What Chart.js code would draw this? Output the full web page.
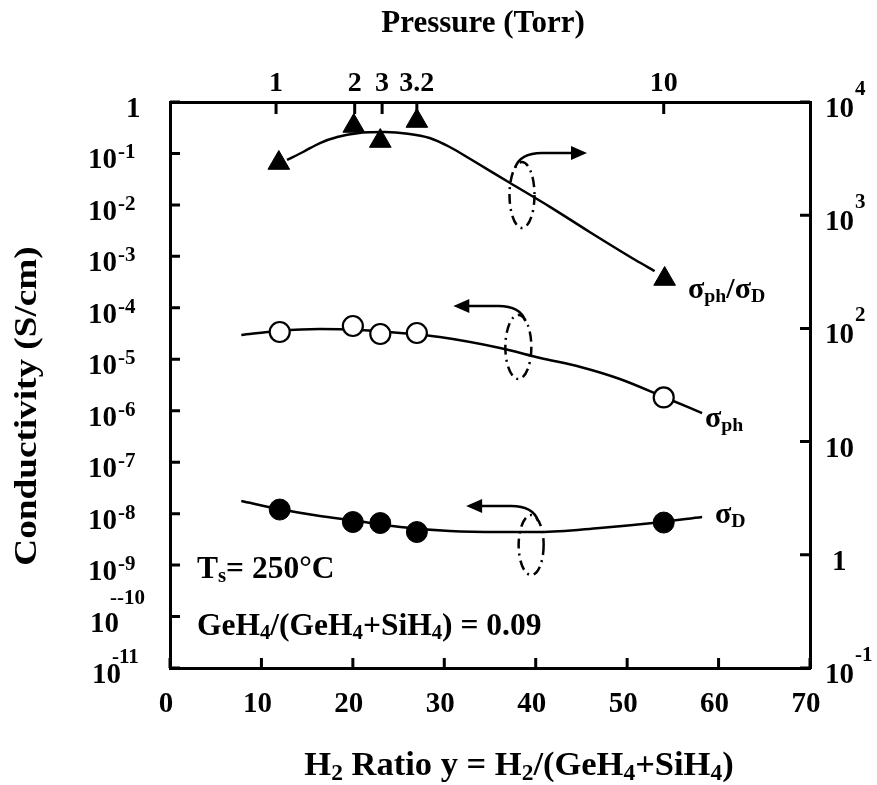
<!DOCTYPE html>
<html>
<head>
<meta charset="utf-8">
<script src="https://cdn.jsdelivr.net/npm/chart.js@4.4.0/dist/chart.umd.min.js"></script>
<style>
  html, body { margin: 0; padding: 0; background: #fff; }
  canvas { display: block; }
</style>
</head>
<body>
<canvas id="chart" width="877" height="785"></canvas>
<script>
// measured points (H2 ratio on x)
const h2Ratio = [12, 20, 23, 27, 54];
const sigmaD = [1.20e-8, 6.87e-9, 6.57e-9, 4.39e-9, 6.71e-9];
const sigmaPh = [3.39e-5, 4.43e-5, 3.10e-5, 3.24e-5, 1.81e-6];
const ratioX = [11.9, 20.1, 23.0, 27.0, 54.1];
const photoDarkRatio = [2890, 6140, 4520, 6790, 273];

// hand drawn trend curves
const fitDX = [7.8, 11.9, 16.4, 19.7, 25.2, 30.6, 36.1, 40.5, 47.0, 52.8, 58.2];
const fitD = [1.76e-8, 1.23e-8, 8.97e-9, 7.51e-9, 5.49e-9, 4.59e-9, 4.39e-9, 4.39e-9, 5.25e-9, 6.56e-9, 8.59e-9];
const fitPhX = [7.8, 11.8, 16.4, 20.8, 25.2, 29.5, 36.1, 40.5, 44.9, 49.2, 54.0, 58.2];
const fitPh = [2.96e-5, 3.54e-5, 3.87e-5, 3.70e-5, 3.24e-5, 2.71e-5, 1.66e-5, 1.06e-5, 7.07e-6, 4.13e-6, 1.85e-6, 9.02e-7];
const fitRatioX = [12.8, 14.55, 16.4, 18.3, 20.5, 23.5, 26.0, 28.4, 30.6, 32.8, 37.2, 41.6, 45.9, 50.9, 53.0];
const fitRatio = [3076, 3617, 4341, 4909, 5300, 5420, 5250, 4810, 4004, 3150, 1925, 1180, 711, 402, 321];

// axes
const xTickStep = 10;
const pressurePos = [11.6, 20.2, 23.2, 27.0, 54.0];
const pressureLabels = ['1', '2', '3', '3.2', '10'];
const leftExp = [0, -1, -2, -3, -4, -5, -6, -7, -8, -9, -10, -11];
const leftLabels = [['1', ''], ['10', '-1'], ['10', '-2'], ['10', '-3'], ['10', '-4'], ['10', '-5'],
    ['10', '-6'], ['10', '-7'], ['10', '-8'], ['10', '-9'], ['10', '--10'], ['10', '-11']];
const rightExp = [-1, 0, 1, 2, 3, 4];
const rightLabels = [['10', '-1'], ['1', ''], ['10', ''], ['10', '2'], ['10', '3'], ['10', '4']];

const FONT = '"Liberation Serif", "Times New Roman", serif';
const font = size => 'bold ' + size + 'px ' + FONT;

const pts = (xs, ys) => xs.map((x, i) => ({ x: x, y: ys[i] }));

// draws text made of [text, isSub] pieces
function drawRich(ctx, x, y, parts, size, align, subScale, subDrop) {
    const ss = size * (subScale || 0.68);
    const drop = subDrop !== undefined ? subDrop : size * 0.15;
    let w = 0;
    parts.forEach(p => {
        ctx.font = font(p[1] ? ss : size);
        w += ctx.measureText(p[0]).width;
    });
    let cx = align === 'center' ? x - w / 2 : x;
    ctx.textAlign = 'left';
    ctx.textBaseline = 'alphabetic';
    parts.forEach(p => {
        ctx.font = font(p[1] ? ss : size);
        ctx.fillText(p[0], cx, y + (p[1] ? drop : 0));
        cx += ctx.measureText(p[0]).width;
    });
}

const loops = [
    { x: 38.5, y: 1.56e-2, rx: 12.5, ry: 33, dir: 1 },
    { x: 38.1, y: 1.73e-5, rx: 13, ry: 32, dir: -1 },
    { x: 39.5, y: 2.45e-9, rx: 12.5, ry: 30, dir: -1 }
];

const sig = '\u03C3';
const notes = [
    { x: 56.66, y: 1.55e-4, size: 30, parts: [[sig, 0], ['ph', 1], ['/', 0], [sig, 0], ['D', 1]] },
    { x: 58.51, y: 4.82e-7, size: 30, parts: [[sig, 0], ['ph', 1]] },
    { x: 59.61, y: 6.56e-9, size: 30, parts: [[sig, 0], ['D', 1]] },
    { x: 2.95, y: 5.6e-10, size: 31.5, parts: [['T', 0], ['s', 1], ['= 250\u00B0C', 0]] },
    { x: 2.95, y: 4.37e-11, size: 31.5, parts: [['GeH', 0], ['4', 1], ['/(GeH', 0], ['4', 1], ['+SiH', 0], ['4', 1], [') = 0.09', 0]] }
];

const decorations = {
    id: 'decorations',
    afterDatasetsDraw(chart) {
        const ctx = chart.ctx;
        const xs = chart.scales.x, ys = chart.scales.y;
        ctx.save();
        ctx.strokeStyle = '#000';
        ctx.fillStyle = '#000';
        loops.forEach(l => {
            const cx = xs.getPixelForValue(l.x), cy = ys.getPixelForValue(l.y);
            ctx.lineWidth = 2.5;
            ctx.setLineDash([10, 5, 2, 5]);
            ctx.beginPath();
            ctx.ellipse(cx, cy, l.rx, l.ry, 0, 0, Math.PI * 2);
            ctx.stroke();
            ctx.setLineDash([]);
            const d = l.dir;
            const sx = cx - d * 7, sy = cy - l.ry + 6;
            const ty = cy - l.ry - 9;
            ctx.beginPath();
            ctx.moveTo(sx, sy);
            ctx.quadraticCurveTo(cx - d * 2, ty, cx + d * 20, ty);
            ctx.lineTo(cx + d * 50, ty);
            ctx.stroke();
            ctx.beginPath();
            ctx.moveTo(cx + d * 65, ty);
            ctx.lineTo(cx + d * 49, ty - 7);
            ctx.lineTo(cx + d * 49, ty + 7);
            ctx.closePath();
            ctx.fill();
        });
        notes.forEach(n => {
            drawRich(ctx, xs.getPixelForValue(n.x), ys.getPixelForValue(n.y), n.parts, n.size, 'left', 0.66, 4);
        });
        ctx.restore();
    },
    afterDraw(chart) {
        const ctx = chart.ctx;
        const { x, x2, y, y2 } = chart.scales;
        const area = chart.chartArea;
        ctx.save();
        ctx.strokeStyle = '#000';
        ctx.fillStyle = '#000';
        ctx.lineWidth = 3;
        ctx.lineCap = 'butt';
        // inward tick marks
        ctx.beginPath();
        leftExp.forEach(e => {
            const py = y.getPixelForValue(Math.pow(10, e));
            ctx.moveTo(area.left, py); ctx.lineTo(area.left + 10, py);
        });
        rightExp.forEach(e => {
            const py = y2.getPixelForValue(Math.pow(10, e));
            ctx.moveTo(area.right, py); ctx.lineTo(area.right - 10, py);
        });
        x.ticks.forEach(t => {
            const px = x.getPixelForValue(t.value);
            ctx.moveTo(px, area.bottom); ctx.lineTo(px, area.bottom - 10);
        });
        pressurePos.forEach(p => {
            const px = x2.getPixelForValue(p);
            ctx.moveTo(px, area.top); ctx.lineTo(px, area.top + 12);
        });
        ctx.stroke();

        ctx.textBaseline = 'alphabetic';
        // left tick labels
        leftExp.forEach((e, i) => {
            const py = y.getPixelForValue(Math.pow(10, e));
            const lab = leftLabels[i];
            ctx.textAlign = 'left';
            ctx.font = font(29);
            if (!lab[1]) {
                ctx.fillText(lab[0], 126, py + 15);
                return;
            }
            let ex = 118, ey = py + 5, bx = 88;
            if (lab[1] === '--10') { ex = 110; ey = py - 13; bx = 90; }
            if (lab[1] === '-11') { ex = 112; ey = py - 5; bx = 92; }
            ctx.fillText(lab[0], bx, py + 15);
            ctx.font = font(21);
            ctx.fillText(lab[1], ex, ey);
        });
        // right tick labels
        rightExp.forEach((e, i) => {
            const py = y2.getPixelForValue(Math.pow(10, e));
            const lab = rightLabels[i];
            ctx.textAlign = 'left';
            ctx.font = font(29);
            ctx.fillText(lab[0], lab[0] === '1' ? 832 : 825, py + 15);
            if (lab[1]) {
                ctx.font = font(21);
                ctx.fillText(lab[1], 855, py - 7);
            }
        });
        // bottom tick labels
        ctx.textAlign = 'center';
        ctx.font = font(29);
        x.ticks.forEach(t => {
            ctx.fillText(String(t.value), x.getPixelForValue(t.value) - 4, 712);
        });
        // top (pressure) tick labels
        ctx.font = font(28);
        pressurePos.forEach((p, i) => {
            ctx.fillText(pressureLabels[i], x2.getPixelForValue(p), 91);
        });

        // axis titles
        ctx.font = font(31);
        ctx.fillText('Pressure (Torr)', 483, 32);
        drawRich(ctx, 519, 775, [['H', 0], ['2', 1], [' Ratio y = H', 0], ['2', 1], ['/(GeH', 0], ['4', 1], ['+SiH', 0], ['4', 1], [')', 0]], 34.5, 'center', 0.68, 5);

        ctx.save();
        ctx.translate(28, 406);
        ctx.rotate(-Math.PI / 2);
        ctx.scale(1.2, 1);
        ctx.font = font(31);
        ctx.textAlign = 'center';
        ctx.textBaseline = 'middle';
        ctx.fillText('Conductivity (S/cm)', 0, 0);
        ctx.restore();
        ctx.restore();
    }
};

const hidden = { display: false };
const frame = { display: true, width: 3, color: '#000' };

new Chart(document.getElementById('chart').getContext('2d'), {
    type: 'scatter',
    data: {
        datasets: [{
            label: 'sigma_ph/sigma_D',
            data: pts(ratioX, photoDarkRatio),
            yAxisID: 'y2',
            pointStyle: 'triangle',
            pointRadius: 12.5,
            backgroundColor: '#000',
            borderColor: '#000',
            borderWidth: 1,
            order: 0
        }, {
            label: 'sigma_ph',
            data: pts(h2Ratio, sigmaPh),
            pointStyle: 'circle',
            pointRadius: 10,
            backgroundColor: '#fff',
            borderColor: '#000',
            borderWidth: 2.2,
            order: 0
        }, {
            label: 'sigma_D',
            data: pts(h2Ratio, sigmaD),
            pointStyle: 'circle',
            pointRadius: 10.5,
            backgroundColor: '#000',
            borderColor: '#000',
            borderWidth: 1,
            order: 0
        }, {
            label: 'fit ratio',
            data: pts(fitRatioX, fitRatio),
            yAxisID: 'y2',
            showLine: true,
            pointRadius: 0,
            borderColor: '#000',
            borderWidth: 2.5,
            cubicInterpolationMode: 'monotone',
            order: 1
        }, {
            label: 'fit ph',
            data: pts(fitPhX, fitPh),
            showLine: true,
            pointRadius: 0,
            borderColor: '#000',
            borderWidth: 2.5,
            cubicInterpolationMode: 'monotone',
            order: 1
        }, {
            label: 'fit D',
            data: pts(fitDX, fitD),
            showLine: true,
            pointRadius: 0,
            borderColor: '#000',
            borderWidth: 2.5,
            cubicInterpolationMode: 'monotone',
            order: 1
        }]
    },
    options: {
        responsive: false,
        animation: false,
        layout: { padding: 0 },
        plugins: {
            legend: { display: false },
            tooltip: { enabled: false }
        },
        scales: {
            x: {
                type: 'linear', position: 'bottom', min: 0, max: 70,
                ticks: { stepSize: xTickStep, display: false },
                grid: hidden, border: frame,
                afterFit: s => { s.height = 117; }
            },
            x2: {
                type: 'linear', position: 'top', min: 0, max: 70,
                ticks: hidden, grid: hidden, border: frame,
                afterFit: s => { s.height = 102; }
            },
            y: {
                type: 'logarithmic', position: 'left', min: 1e-11, max: 1,
                ticks: hidden, grid: hidden, border: frame,
                afterFit: s => { s.width = 170; }
            },
            y2: {
                type: 'logarithmic', position: 'right', min: 0.1, max: 1e4,
                ticks: hidden, grid: hidden, border: frame,
                afterFit: s => { s.width = 67; }
            }
        }
    },
    plugins: [decorations]
});
</script>
</body>
</html>
